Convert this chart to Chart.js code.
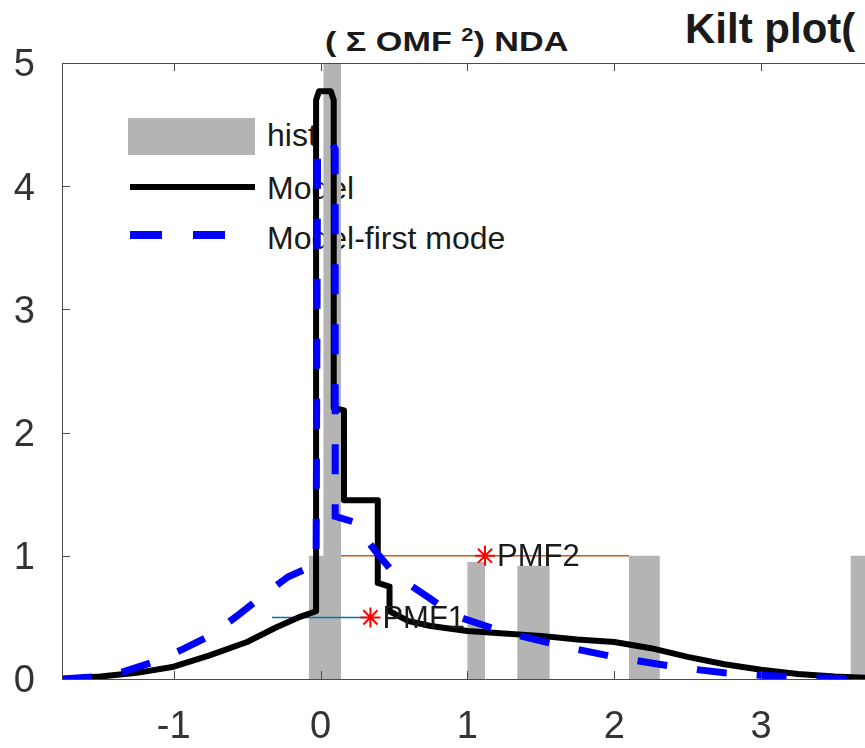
<!DOCTYPE html>
<html>
<head>
<meta charset="utf-8">
<script src="https://cdn.jsdelivr.net/npm/chart.js@4/dist/chart.umd.min.js"></script>
<style>
  html, body { margin: 0; padding: 0; width: 865px; height: 748px; overflow: hidden; background: #fff; }
  #wrap { position: relative; width: 865px; height: 748px; overflow: hidden; }
  .t { position: absolute; font-family: "Liberation Sans", Arial, sans-serif; color: #1a1a1a; line-height: 1; white-space: nowrap; }
  .sw { position: absolute; }
  canvas { position: absolute; left: 0; top: 0; z-index: 2; }
  #legend { position: absolute; left: 0; top: 0; z-index: 1; }
</style>
</head>
<body>
<div id="wrap">
  <div id="legend">
    <div class="sw" style="left:128px;top:118px;width:127px;height:37px;background:#b4b4b4;"></div>
    <div class="t" style="left:267px;top:119px;font-size:32px;">hist</div>
    <div class="sw" style="left:130px;top:184px;width:125px;height:6px;background:#000;"></div>
    <div class="t" style="left:267px;top:172px;font-size:32px;">Model</div>
    <div class="sw" style="left:130px;top:231px;width:32px;height:8px;background:#0000ff;"></div>
    <div class="sw" style="left:193px;top:231px;width:32px;height:8px;background:#0000ff;"></div>
    <div class="t" style="left:267px;top:222px;font-size:32px;">Model-first mode</div>
  </div>
  <div class="t" style="left:325px;top:28px;font-size:28px;font-weight:bold;transform:scaleX(1.22);transform-origin:left top;">( &Sigma; OMF <span style="font-size:18px;position:relative;top:-10px;">2</span>) NDA</div>
  <div class="t" style="left:685px;top:8px;font-size:42px;font-weight:bold;">Kilt plot(</div>
  <canvas id="c" width="920" height="748"></canvas>
</div>
<script>
// ---- data ----
const xTicks = [-1, 0, 1, 2, 3];
const yTicks = [0, 1, 2, 3, 4, 5];

const histLeft   = [-0.08, 0.02, 1.00, 1.34, 2.10, 3.61];
const histRight  = [ 0.02, 0.14, 1.12, 1.56, 2.31, 3.81];
const histHeight = [ 1.00, 5.50, 0.95, 0.92, 1.00, 1.00];

const modelX = [-1.76, -1.5, -1.25, -1.0, -0.76, -0.5, -0.3, -0.15, -0.03, -0.03, -0.01, 0.07, 0.09, 0.09, 0.16, 0.16, 0.39, 0.39, 0.47, 0.47, 0.6, 0.75, 1.0, 1.25, 1.5, 1.75, 2.0, 2.25, 2.5, 2.75, 3.0, 3.25, 3.5, 3.75, 4.0];
const modelY = [0.0, 0.02, 0.05, 0.10, 0.19, 0.30, 0.42, 0.50, 0.55, 4.70, 4.77, 4.77, 4.70, 2.20, 2.18, 1.45, 1.45, 0.78, 0.75, 0.55, 0.47, 0.43, 0.39, 0.37, 0.35, 0.32, 0.30, 0.25, 0.18, 0.12, 0.075, 0.04, 0.02, 0.008, 0.0];

const firstModeX = [-1.76, -1.5, -1.34, -1.13, -0.94, -0.74, -0.57, -0.4, -0.22, -0.03, -0.02, 0.0, 0.08, 0.10, 0.10, 0.24, 0.3, 0.4, 0.5, 0.6, 0.75, 0.9, 1.1, 1.25, 1.5, 1.75, 2.0, 2.25, 2.5, 2.75, 3.0, 3.25, 3.5, 3.75, 4.0];
const firstModeY = [0.0, 0.02, 0.06, 0.14, 0.24, 0.36, 0.51, 0.67, 0.83, 0.93, 4.30, 4.35, 4.35, 4.30, 1.32, 1.27, 1.15, 1.00, 0.86, 0.77, 0.65, 0.52, 0.44, 0.38, 0.31, 0.24, 0.18, 0.13, 0.085, 0.05, 0.03, 0.015, 0.006, 0.002, 0.0];

const pmfLabels = ['PMF1', 'PMF2'];
const pmfX = [0.34, 1.12];
const pmfY = [0.5, 1.0];
const pmf1LineX = [-0.33, 0.34];
const pmf2LineX = [0.14, 2.10];

// ---- build ----
const histPts = [];
histLeft.forEach((l, i) => {
  histPts.push({x: l, y: 0}, {x: l, y: histHeight[i]}, {x: histRight[i], y: histHeight[i]}, {x: histRight[i], y: 0});
});
const zip = (xs, ys) => xs.map((x, i) => ({x: x, y: ys[i]}));

const frameColor = '#4a4a4a';
const framePlugin = {
  id: 'frame',
  afterDatasetsDraw(chart) {
    const {ctx, chartArea: a, scales: {x, y}} = chart;
    ctx.save();
    ctx.strokeStyle = frameColor;
    ctx.lineWidth = 1;
    ctx.beginPath();
    ctx.rect(Math.round(a.left) + 0.5, Math.round(a.top) + 0.5, Math.round(a.right - a.left), Math.round(a.bottom - a.top));
    ctx.stroke();
    const tl = 8;
    ctx.beginPath();
    xTicks.forEach(v => {
      const px = Math.round(x.getPixelForValue(v)) + 0.5;
      ctx.moveTo(px, a.bottom); ctx.lineTo(px, a.bottom - tl);
      ctx.moveTo(px, a.top); ctx.lineTo(px, a.top + tl);
    });
    yTicks.forEach(v => {
      const py = Math.round(y.getPixelForValue(v)) + 0.5;
      ctx.moveTo(a.left, py); ctx.lineTo(a.left + tl, py);
      ctx.moveTo(a.right, py); ctx.lineTo(a.right - tl, py);
    });
    ctx.stroke();
    // PMF labels
    ctx.fillStyle = '#1a1a1a';
    ctx.font = '31px "Liberation Sans", Arial, sans-serif';
    ctx.textBaseline = 'middle';
    ctx.textAlign = 'left';
    pmfLabels.forEach((lab, i) => {
      ctx.fillText(lab, x.getPixelForValue(pmfX[i]) + 12, y.getPixelForValue(pmfY[i]) + 2);
    });
    ctx.restore();
  }
};

new Chart(document.getElementById('c'), {
  type: 'line',
  data: {
    datasets: [
      { label: 'hist', data: histPts, fill: 'origin', backgroundColor: '#b4b4b4', borderWidth: 0, pointRadius: 0, tension: 0, order: 10 },
      { label: 'pmf1line', data: zip(pmf1LineX, [pmfY[0], pmfY[0]]), borderColor: '#0072BD', borderWidth: 1.5, pointRadius: 0, fill: false, order: 6 },
      { label: 'pmf2line', data: zip(pmf2LineX, [pmfY[1], pmfY[1]]), borderColor: '#D95319', borderWidth: 1.5, pointRadius: 0, fill: false, order: 6 },
      { label: 'Model', data: zip(modelX, modelY), borderColor: '#000000', borderWidth: 6, pointRadius: 0, fill: false, tension: 0, borderJoinStyle: 'round', borderCapStyle: 'round', order: 3 },
      { label: 'Model-first mode', data: zip(firstModeX, firstModeY), borderColor: '#0000ff', borderWidth: 7, borderDash: [30, 30], pointRadius: 0, fill: false, tension: 0, borderCapStyle: 'butt', order: 2 },
      { label: 'PMF', data: zip(pmfX, pmfY), showLine: false, pointStyle: 'star', pointRadius: 10, borderColor: '#ff0000', borderWidth: 2, backgroundColor: '#ff0000', order: 1 }
    ]
  },
  options: {
    responsive: false,
    animation: false,
    events: [],
    layout: { padding: { left: 0, top: 63, right: 6, bottom: 0 } },
    plugins: { legend: { display: false }, tooltip: { enabled: false }, title: { display: false } },
    scales: {
      x: {
        type: 'linear', min: -1.76, max: 4.0,
        grid: { display: false }, border: { display: false },
        afterBuildTicks: s => { s.ticks = xTicks.map(v => ({value: v})); },
        afterFit: s => { s.height = 69; },
        ticks: { color: '#333', padding: 18, maxRotation: 0, font: { family: '"Liberation Sans", Arial, sans-serif', size: 38 } }
      },
      y: {
        type: 'linear', min: 0, max: 5,
        grid: { display: false }, border: { display: false },
        afterBuildTicks: s => { s.ticks = yTicks.map(v => ({value: v})); },
        afterFit: s => { s.width = 62; },
        ticks: { color: '#333', padding: 19, labelOffset: 3, font: { family: '"Liberation Sans", Arial, sans-serif', size: 38 } }
      }
    }
  },
  plugins: [framePlugin]
});
</script>
</body>
</html>
